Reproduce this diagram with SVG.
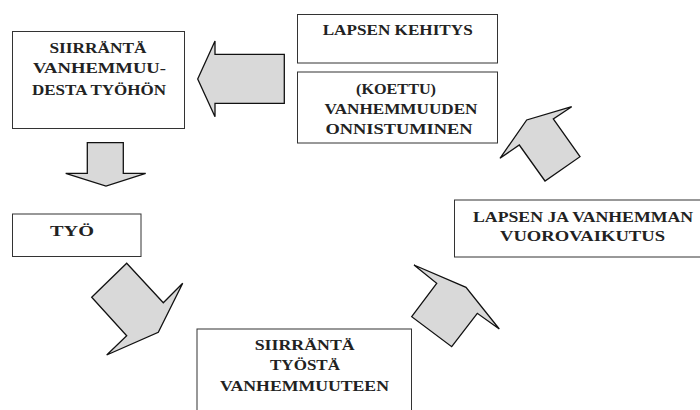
<svg xmlns="http://www.w3.org/2000/svg" width="700" height="410" viewBox="0 0 700 410">
<style>
.box{fill:#fff;stroke:#333;stroke-width:1}
.t{font-family:"Liberation Serif","Times New Roman",serif;font-weight:bold;font-size:15px;fill:#222;text-anchor:middle}
.arr{fill:#d9d9d9;stroke:#111;stroke-width:1.3;stroke-linejoin:miter}
</style>
<rect width="700" height="410" fill="#fff"/>
<g id="siirranta-vanhemmuudesta">
<rect class="box" x="12.5" y="31.5" width="172" height="97"/>
<text class="t" x="98" y="53" textLength="97" lengthAdjust="spacingAndGlyphs">SIIRRÄNTÄ</text>
<text class="t" x="99.5" y="73" textLength="133" lengthAdjust="spacingAndGlyphs">VANHEMMUU-</text>
<text class="t" x="99" y="95" textLength="134" lengthAdjust="spacingAndGlyphs">DESTA TYÖHÖN</text>
</g>
<g id="lapsen-kehitys">
<rect class="box" x="297.5" y="14.5" width="200" height="48.5"/>
<text class="t" x="397.7" y="35" textLength="150" lengthAdjust="spacingAndGlyphs">LAPSEN KEHITYS</text>
</g>
<g id="vanhemmuuden-onnistuminen">
<rect class="box" x="297.5" y="72" width="200" height="71"/>
<text class="t" x="396" y="94" textLength="80" lengthAdjust="spacingAndGlyphs">(KOETTU)</text>
<text class="t" x="401" y="114.3" textLength="153" lengthAdjust="spacingAndGlyphs">VANHEMMUUDEN</text>
<text class="t" x="399" y="133.5" textLength="147" lengthAdjust="spacingAndGlyphs">ONNISTUMINEN</text>
</g>
<g id="vuorovaikutus">
<rect class="box" x="454.5" y="200" width="246" height="57"/>
<text class="t" x="583" y="221.7" textLength="220" lengthAdjust="spacingAndGlyphs">LAPSEN JA VANHEMMAN</text>
<text class="t" x="582.5" y="240.7" textLength="165" lengthAdjust="spacingAndGlyphs">VUOROVAIKUTUS</text>
</g>
<g id="tyo">
<rect class="box" x="12.5" y="214" width="128.5" height="42.5"/>
<text class="t" x="72" y="235.7" textLength="44" lengthAdjust="spacingAndGlyphs">TYÖ</text>
</g>
<g id="siirranta-tyosta">
<rect class="box" x="197" y="329" width="214.5" height="100"/>
<text class="t" x="304.7" y="350" textLength="100" lengthAdjust="spacingAndGlyphs">SIIRRÄNTÄ</text>
<text class="t" x="305" y="370" textLength="70" lengthAdjust="spacingAndGlyphs">TYÖSTÄ</text>
<text class="t" x="304.5" y="391" textLength="169" lengthAdjust="spacingAndGlyphs">VANHEMMUUTEEN</text>
</g>
<g id="connectors">
<polygon class="arr" points="197.7,79 215,41 215,54.3 284.3,54.3 284.3,103.3 215,103.3 215,116.7"/>
<polygon class="arr" points="87.3,142.7 123.3,142.7 123.3,173.3 145.7,173.3 106,186 65.7,173.3 87.3,173.3"/>
<polygon class="arr" points="91.7,297.3 126.7,263.3 163.3,302.7 182.7,283.3 158.3,332.3 106.7,355 126.7,335.7"/>
<polygon class="arr" points="414,265 466,287.3 499.3,329 477.3,313.3 451.7,346.7 411.7,316.7 436.7,283.3"/>
<polygon class="arr" points="500,158.3 526.7,120 571.7,106.7 553.3,119 580,156.7 545,181 519.3,145"/>
</g>
</svg>
